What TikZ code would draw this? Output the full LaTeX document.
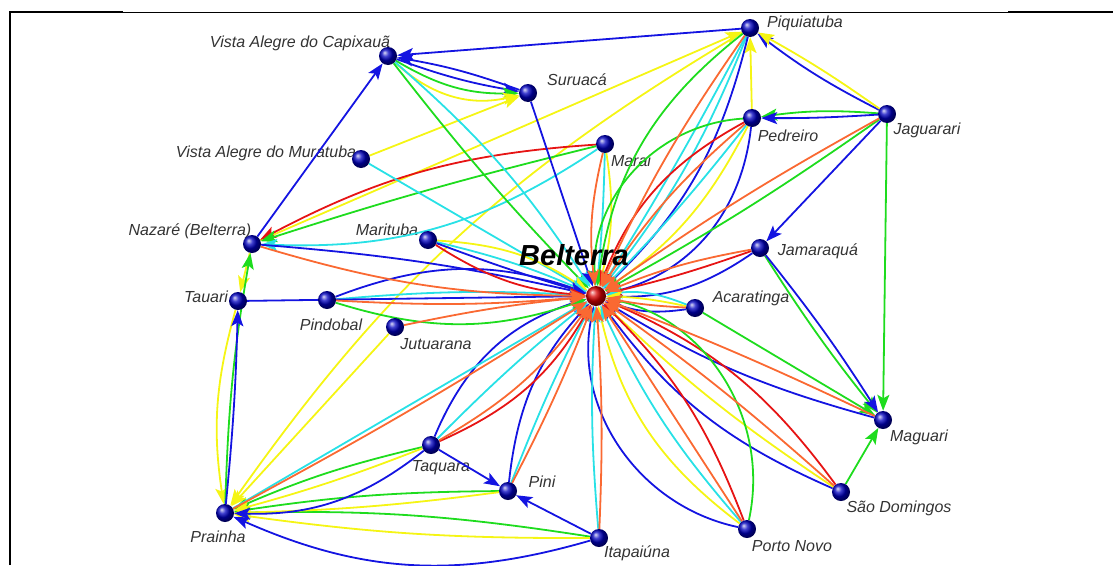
\documentclass[tikz,border=0pt]{standalone}
\usepackage{fontspec}
\setmainfont{Liberation Sans}
\usetikzlibrary{arrows.meta,backgrounds}

\definecolor{lblue}{RGB}{20,20,225}
\definecolor{lred}{RGB}{230,20,20}
\definecolor{lorange}{RGB}{250,105,50}
\definecolor{lcyan}{RGB}{40,225,230}
\definecolor{lyellow}{RGB}{245,245,20}
\definecolor{lgreen}{RGB}{30,220,30}

\tikzset{
  town/.style={circle,inner sep=0pt,minimum size=18pt,ball color=blue!75!black},
  hub/.style={circle,inner sep=0pt,minimum size=20pt,ball color=red!85!black},
  townlabel/.style={font=\fontsize{16}{18}\selectfont\itshape,text=black!80,inner sep=0pt},
  link/.style={line width=1.8pt,-{Stealth[length=16pt,width=12pt,inset=3.5pt]}},
}

\begin{document}
\begin{tikzpicture}[x=1pt,y=1pt]
\useasboundingbox (0,0) rectangle (1113,-565);

%Frame
\draw[line width=2pt] (10,-565) -- (10,-12) -- (123,-12);
\draw[line width=1pt] (123,-12) -- (1008,-12);
\draw[line width=2pt] (1008,-12) -- (1113,-12);

%Towns
\node[hub] (belterra) at (596,-296){};
\node[town] (capixaua) at (388,-56){};
\node[town] (muratuba) at (361,-159){};
\node[town] (suruaca) at (528,-93){};
\node[town] (marai) at (605,-144){};
\node[town] (piquiatuba) at (750,-28){};
\node[town] (pedreiro) at (752,-118){};
\node[town] (jaguarari) at (887,-114){};
\node[town] (nazare) at (252,-244){};
\node[town] (marituba) at (428,-240){};
\node[town] (jamaraqua) at (760,-248){};
\node[town] (tauari) at (238,-301){};
\node[town] (pindobal) at (327,-300){};
\node[town] (jutuarana) at (395,-327){};
\node[town] (acaratinga) at (695,-308){};
\node[town] (maguari) at (883,-420){};
\node[town] (taquara) at (431,-445){};
\node[town] (pini) at (508,-491){};
\node[town] (prainha) at (225,-513){};
\node[town] (itapaiuna) at (599,-538){};
\node[town] (portonovo) at (747,-529){};
\node[town] (saodomingos) at (841,-492){};

%Belterra label
\node[font=\fontsize{29}{32}\selectfont\bfseries\itshape,inner sep=0pt] (tbelterra) at (574,-255){Belterra};

\begin{scope}[on background layer]
%Labels
\node[townlabel] (tcapixaua) at (300,-43){Vista Alegre do Capixauã};
\node[townlabel] (tmuratuba) at (266,-153){Vista Alegre do Muratuba};
\node[townlabel] (tsuruaca) at (577,-80){Suruacá};
\node[townlabel] (tmarai) at (631,-161){Marai};
\node[townlabel] (tpiquiatuba) at (805,-23){Piquiatuba};
\node[townlabel] (tpedreiro) at (788,-136){Pedreiro};
\node[townlabel] (tjaguarari) at (927,-130){Jaguarari};
\node[townlabel] (tnazare) at (190,-231){Nazaré (Belterra)};
\node[townlabel] (tmarituba) at (387,-230){Marituba};
\node[townlabel] (tjamaraqua) at (818,-251){Jamaraquá};
\node[townlabel] (ttauari) at (206,-297){Tauari};
\node[townlabel] (tpindobal) at (331,-325){Pindobal};
\node[townlabel] (tjutuarana) at (436,-344){Jutuarana};
\node[townlabel] (tacaratinga) at (751,-298){Acaratinga};
\node[townlabel] (tmaguari) at (919,-437){Maguari};
\node[townlabel] (ttaquara) at (441,-468){Taquara};
\node[townlabel] (tpini) at (542,-482){Pini};
\node[townlabel] (tprainha) at (218,-537){Prainha};
\node[townlabel] (titapaiuna) at (637,-553){Itapaiúna};
\node[townlabel] (tportonovo) at (792,-546){Porto Novo};
\node[townlabel] (tsaodomingos) at (899,-508){São Domingos};

%Links between the other towns
\draw[link,lblue] (piquiatuba) to (capixaua);
\draw[link,lblue] (nazare) to (capixaua);
\draw[link,lblue,bend right=5] (capixaua) to (suruaca);
\draw[link,lblue,bend right=5] (suruaca) to (capixaua);
\draw[link,lgreen,bend right=16] (capixaua) to (suruaca);
\draw[link,lyellow,bend right=28] (capixaua) to (suruaca);
\draw[link,lyellow] (muratuba) to (suruaca);
\draw[link,lyellow] (nazare) to (piquiatuba);
\draw[link,lyellow,bend right=12] (piquiatuba) to (prainha);
\draw[link,lred,bend right=12] (marai) to (nazare);
\draw[link,lgreen,bend right=2] (marai) to (nazare);
\draw[link,lcyan,bend left=18] (marai) to (nazare);
\draw[link,lyellow] (pedreiro) to (piquiatuba);
\draw[link,lblue,bend left=5] (jaguarari) to (piquiatuba);
\draw[link,lyellow,bend right=3] (jaguarari) to (piquiatuba);
\draw[link,lgreen,bend right=6] (jaguarari) to (pedreiro);
\draw[link,lblue,bend left=2] (jaguarari) to (pedreiro);
\draw[link,lblue] (jaguarari) to (jamaraqua);
\draw[link,lgreen] (jaguarari) to (maguari);
\draw[link,lgreen,bend right=3] (jamaraqua) to (maguari);
\draw[link,lblue,bend left=3] (jamaraqua) to (maguari);
\draw[link,lgreen] (acaratinga) to (maguari);
\draw[link,lgreen] (saodomingos) to (maguari);
\draw[link,lblue] (itapaiuna) to (pini);
\draw[link,lblue] (taquara) to (pini);
\draw[link,lgreen,bend right=5] (itapaiuna) to (prainha);
\draw[link,lyellow,bend left=4] (itapaiuna) to (prainha);
\draw[link,lblue,bend left=20] (itapaiuna) to (prainha);
\draw[link,lgreen,bend right=4] (pini) to (prainha);
\draw[link,lyellow,bend left=3] (pini) to (prainha);
\draw[link,lgreen,bend right=5] (taquara) to (prainha);
\draw[link,lyellow,bend left=3] (taquara) to (prainha);
\draw[link,lblue,bend left=20] (taquara) to (prainha);
\draw[link,lyellow] (jutuarana) to (prainha);
\draw[link,lyellow] (nazare) to (tauari);
\draw[link,lyellow,bend right=12] (tauari) to (prainha);
\draw[link,lgreen,bend left=4] (prainha) to (nazare);
\draw[link,lblue,bend right=2] (prainha) to (tauari);

%Links into Belterra
\draw[link,lgreen,bend right=3] (capixaua) to (belterra);
\draw[link,lcyan,bend left=8] (capixaua) to (belterra);
\draw[link,lblue] (suruaca) to (belterra);
\draw[link,lcyan] (muratuba) to (belterra);
\draw[link,lblue,bend left=4] (nazare) to (belterra);
\draw[link,lcyan,bend left=2] (marai) to (belterra);
\draw[link,lyellow,bend left=12] (marai) to (belterra);
\draw[link,lgreen,bend right=22] (piquiatuba) to (belterra);
\draw[link,lcyan,bend left=2] (piquiatuba) to (belterra);
\draw[link,lcyan,bend left=8] (piquiatuba) to (belterra);
\draw[link,lblue,bend left=16] (piquiatuba) to (belterra);
\draw[link,lgreen,bend right=45] (pedreiro) to (belterra);
\draw[link,lred,bend right=20] (pedreiro) to (belterra);
\draw[link,lcyan,bend left=3] (pedreiro) to (belterra);
\draw[link,lyellow,bend left=14] (pedreiro) to (belterra);
\draw[link,lblue,bend left=35] (pedreiro) to (belterra);
\draw[link,lgreen,bend left=3] (jaguarari) to (belterra);
\draw[link,lred,bend left=3] (jamaraqua) to (belterra);
\draw[link,lblue,bend left=18] (jamaraqua) to (belterra);
\draw[link,lcyan,bend right=15] (acaratinga) to (belterra);
\draw[link,lyellow,bend right=5] (acaratinga) to (belterra);
\draw[link,lblue,bend left=15] (acaratinga) to (belterra);
\draw[link,lblue,bend left=8] (maguari) to (belterra);
\draw[link,lblue,bend left=15] (saodomingos) to (belterra);
\draw[link,lyellow,bend left=5] (saodomingos) to (belterra);
\draw[link,lred,bend right=15] (saodomingos) to (belterra);
\draw[link,lblue,bend left=45] (portonovo) to (belterra);
\draw[link,lyellow,bend left=20] (portonovo) to (belterra);
\draw[link,lcyan,bend left=8] (portonovo) to (belterra);
\draw[link,lred,bend right=12] (portonovo) to (belterra);
\draw[link,lgreen,bend right=45] (portonovo) to (belterra);
\draw[link,lcyan,bend left=4] (itapaiuna) to (belterra);
\draw[link,lblue,bend left=18] (pini) to (belterra);
\draw[link,lcyan,bend left=3] (pini) to (belterra);
\draw[link,lblue,bend left=25] (taquara) to (belterra);
\draw[link,lcyan,bend left=3] (taquara) to (belterra);
\draw[link,lred,bend right=18] (taquara) to (belterra);
\draw[link,lcyan] (prainha) to (belterra);
\draw[link,lblue,bend left=20] (pindobal) to (belterra);
\draw[link,lcyan,bend left=4] (pindobal) to (belterra);
\draw[link,lgreen,bend right=18] (pindobal) to (belterra);
\draw[link,lblue] (tauari) to (belterra);
\draw[link,lyellow,bend left=15] (marituba) to (belterra);
\draw[link,lcyan,bend left=5] (marituba) to (belterra);
\draw[link,lblue,bend right=2] (marituba) to (belterra);
\draw[link,lred,bend right=14] (marituba) to (belterra);

%Orange links last
\draw[link,lorange,bend right=8] (nazare) to (belterra);
\draw[link,lorange,bend right=10] (marai) to (belterra);
\draw[link,lorange,bend right=5] (piquiatuba) to (belterra);
\draw[link,lorange,bend right=8] (pedreiro) to (belterra);
\draw[link,lorange,bend right=3] (jaguarari) to (belterra);
\draw[link,lorange,bend right=6] (jamaraqua) to (belterra);
\draw[link,lorange,bend left=4] (acaratinga) to (belterra);
\draw[link,lorange,bend right=2] (maguari) to (belterra);
\draw[link,lorange,bend right=3] (saodomingos) to (belterra);
\draw[link,lorange] (portonovo) to (belterra);
\draw[link,lorange,bend right=3] (itapaiuna) to (belterra);
\draw[link,lorange,bend right=3] (pini) to (belterra);
\draw[link,lorange,bend right=12] (taquara) to (belterra);
\draw[link,lorange,bend right=2] (prainha) to (belterra);
\draw[link,lorange,bend left=3] (jutuarana) to (belterra);
\draw[link,lorange,bend right=4] (pindobal) to (belterra);
\end{scope}

\end{tikzpicture}
\end{document}
